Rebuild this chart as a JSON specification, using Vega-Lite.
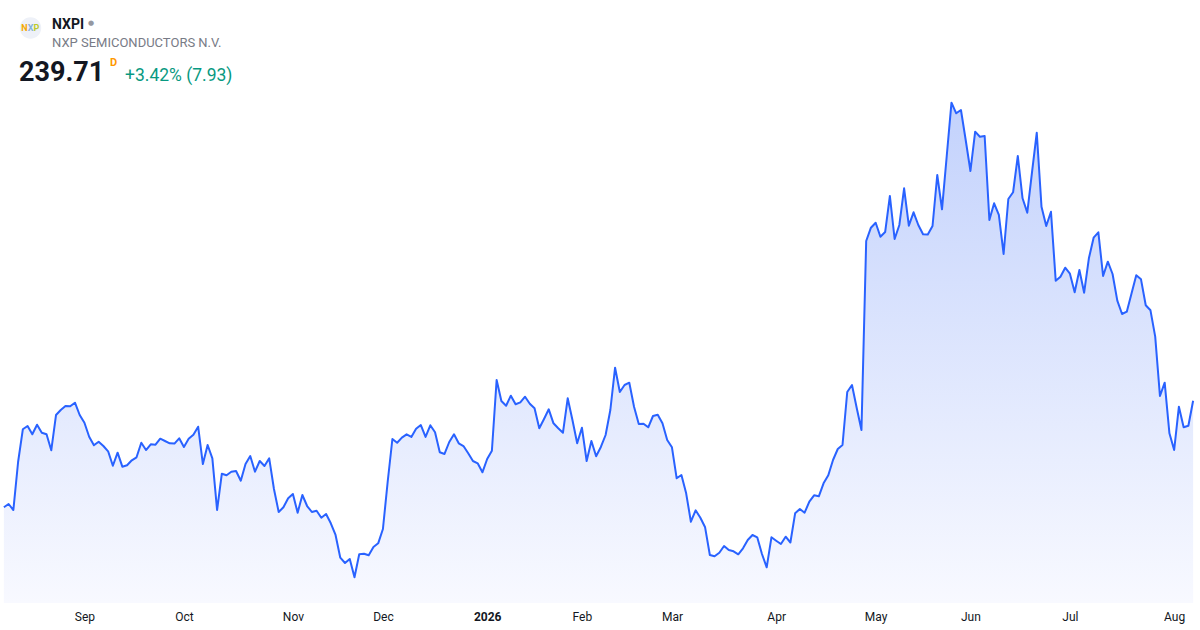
{
  "$schema": "https://vega.github.io/schema/vega-lite/v6.json",
  "background": "white",
  "padding": {"left": 0, "top": 0, "right": 0, "bottom": 4},
  "spacing": 0,
  "config": {
    "view": {"stroke": null},
    "font": "Roboto",
    "title": {"anchor": "start", "orient": "top", "frame": "group"}
  },
  "datasets": {
    "nxpi": [
      {"date":"2025-08-07","price":205.90},{"date":"2025-08-08","price":206.95},{"date":"2025-08-11","price":205.04},{"date":"2025-08-12","price":220.27},{"date":"2025-08-13","price":230.64},{"date":"2025-08-14","price":231.69},{"date":"2025-08-15","price":229.05},{"date":"2025-08-18","price":232.10},{"date":"2025-08-19","price":229.56},{"date":"2025-08-20","price":229.05},{"date":"2025-08-21","price":223.98},{"date":"2025-08-22","price":235.17},{"date":"2025-08-25","price":236.76},{"date":"2025-08-26","price":238.03},{"date":"2025-08-27","price":237.93},{"date":"2025-08-28","price":239.08},{"date":"2025-08-29","price":235.17},
      {"date":"2025-09-02","price":232.73},{"date":"2025-09-03","price":228.29},{"date":"2025-09-04","price":225.56},{"date":"2025-09-05","price":226.71},{"date":"2025-09-08","price":225.34},{"date":"2025-09-09","price":223.66},{"date":"2025-09-10","price":219.09},{"date":"2025-09-11","price":223.22},{"date":"2025-09-12","price":218.78},{"date":"2025-09-15","price":219.22},{"date":"2025-09-16","price":220.81},{"date":"2025-09-17","price":221.76},{"date":"2025-09-18","price":226.39},{"date":"2025-09-19","price":224.07},{"date":"2025-09-22","price":225.88},{"date":"2025-09-23","price":225.75},{"date":"2025-09-24","price":227.66},{"date":"2025-09-25","price":226.93},{"date":"2025-09-26","price":226.20},{"date":"2025-09-29","price":226.10},{"date":"2025-09-30","price":227.78},
      {"date":"2025-10-01","price":225.03},{"date":"2025-10-02","price":227.66},{"date":"2025-10-03","price":228.93},{"date":"2025-10-06","price":231.46},{"date":"2025-10-07","price":219.63},{"date":"2025-10-08","price":225.66},{"date":"2025-10-09","price":221.44},{"date":"2025-10-10","price":205.04},{"date":"2025-10-13","price":216.56},{"date":"2025-10-14","price":216.05},{"date":"2025-10-15","price":217.19},{"date":"2025-10-16","price":217.41},{"date":"2025-10-17","price":214.34},{"date":"2025-10-20","price":219.63},{"date":"2025-10-21","price":222.17},{"date":"2025-10-22","price":217.19},{"date":"2025-10-23","price":220.59},{"date":"2025-10-24","price":219.00},{"date":"2025-10-27","price":221.44},{"date":"2025-10-28","price":211.70},{"date":"2025-10-29","price":204.41},{"date":"2025-10-30","price":205.90},{"date":"2025-10-31","price":208.76},
      {"date":"2025-11-03","price":210.12},{"date":"2025-11-04","price":204.19},{"date":"2025-11-05","price":209.80},{"date":"2025-11-06","price":206.31},{"date":"2025-11-07","price":204.41},{"date":"2025-11-10","price":204.82},{"date":"2025-11-11","price":202.60},{"date":"2025-11-12","price":203.78},{"date":"2025-11-13","price":200.83},{"date":"2025-11-14","price":197.12},{"date":"2025-11-17","price":189.92},{"date":"2025-11-18","price":188.23},{"date":"2025-11-19","price":189.50},{"date":"2025-11-20","price":183.70},{"date":"2025-11-21","price":190.99},{"date":"2025-11-24","price":191.18},{"date":"2025-11-25","price":190.68},{"date":"2025-11-26","price":193.31},{"date":"2025-11-28","price":194.48},
      {"date":"2025-12-01","price":199.02},{"date":"2025-12-02","price":213.92},{"date":"2025-12-03","price":227.56},{"date":"2025-12-04","price":226.39},{"date":"2025-12-05","price":227.98},{"date":"2025-12-08","price":229.05},{"date":"2025-12-09","price":228.20},{"date":"2025-12-10","price":230.83},{"date":"2025-12-11","price":232.00},{"date":"2025-12-12","price":228.20},{"date":"2025-12-15","price":231.91},{"date":"2025-12-16","price":229.69},{"date":"2025-12-17","price":223.34},{"date":"2025-12-18","price":222.81},{"date":"2025-12-19","price":226.61},{"date":"2025-12-22","price":229.05},{"date":"2025-12-23","price":226.20},{"date":"2025-12-24","price":225.34},{"date":"2025-12-26","price":223.03},{"date":"2025-12-29","price":220.59},{"date":"2025-12-30","price":219.86},{"date":"2025-12-31","price":217.00},
      {"date":"2026-01-02","price":221.22},{"date":"2026-01-05","price":223.85},{"date":"2026-01-06","price":246.28},{"date":"2026-01-07","price":239.61},{"date":"2026-01-08","price":238.12},{"date":"2026-01-09","price":241.30},{"date":"2026-01-12","price":238.57},{"date":"2026-01-13","price":239.20},{"date":"2026-01-14","price":240.98},{"date":"2026-01-15","price":238.76},{"date":"2026-01-16","price":237.30},{"date":"2026-01-20","price":230.96},{"date":"2026-01-21","price":233.91},{"date":"2026-01-22","price":236.98},{"date":"2026-01-23","price":232.54},{"date":"2026-01-26","price":230.96},{"date":"2026-01-27","price":229.56},{"date":"2026-01-28","price":240.47},{"date":"2026-01-29","price":233.59},{"date":"2026-01-30","price":226.20},
      {"date":"2026-02-02","price":231.15},{"date":"2026-02-03","price":220.59},{"date":"2026-02-04","price":226.93},{"date":"2026-02-05","price":222.08},{"date":"2026-02-06","price":225.03},{"date":"2026-02-09","price":228.83},{"date":"2026-02-10","price":236.76},{"date":"2026-02-11","price":250.18},{"date":"2026-02-12","price":242.47},{"date":"2026-02-13","price":244.69},{"date":"2026-02-17","price":245.42},{"date":"2026-02-18","price":237.81},{"date":"2026-02-19","price":232.32},{"date":"2026-02-20","price":232.42},{"date":"2026-02-23","price":231.27},{"date":"2026-02-24","price":234.86},{"date":"2026-02-25","price":235.27},{"date":"2026-02-26","price":232.54},{"date":"2026-02-27","price":227.25},
      {"date":"2026-03-02","price":224.93},{"date":"2026-03-03","price":215.10},{"date":"2026-03-04","price":216.15},{"date":"2026-03-05","price":210.34},{"date":"2026-03-06","price":201.33},{"date":"2026-03-09","price":204.95},{"date":"2026-03-10","price":202.60},{"date":"2026-03-11","price":199.56},{"date":"2026-03-12","price":190.77},{"date":"2026-03-13","price":190.36},{"date":"2026-03-16","price":191.50},{"date":"2026-03-17","price":193.63},{"date":"2026-03-18","price":192.36},{"date":"2026-03-19","price":191.95},{"date":"2026-03-20","price":190.99},{"date":"2026-03-23","price":192.90},{"date":"2026-03-24","price":195.53},{"date":"2026-03-25","price":197.12},{"date":"2026-03-26","price":196.39},{"date":"2026-03-27","price":191.09},{"date":"2026-03-30","price":186.87},{"date":"2026-03-31","price":196.39},
      {"date":"2026-04-01","price":195.31},{"date":"2026-04-02","price":194.26},{"date":"2026-04-06","price":196.58},{"date":"2026-04-07","price":194.74},{"date":"2026-04-08","price":204.00},{"date":"2026-04-09","price":205.36},{"date":"2026-04-10","price":204.19},{"date":"2026-04-13","price":207.68},{"date":"2026-04-14","price":209.71},{"date":"2026-04-15","price":209.39},{"date":"2026-04-16","price":213.51},{"date":"2026-04-17","price":216.05},{"date":"2026-04-20","price":220.90},{"date":"2026-04-21","price":224.39},{"date":"2026-04-22","price":225.66},{"date":"2026-04-23","price":242.47},{"date":"2026-04-24","price":244.69},{"date":"2026-04-27","price":237.39},{"date":"2026-04-28","price":230.42},{"date":"2026-04-29","price":290.36},{"date":"2026-04-30","price":294.58},
      {"date":"2026-05-01","price":296.16},{"date":"2026-05-04","price":291.72},{"date":"2026-05-05","price":293.21},{"date":"2026-05-06","price":304.63},{"date":"2026-05-07","price":290.99},{"date":"2026-05-08","price":295.44},{"date":"2026-05-11","price":307.07},{"date":"2026-05-12","price":295.21},{"date":"2026-05-13","price":299.46},{"date":"2026-05-14","price":295.44},{"date":"2026-05-15","price":292.49},{"date":"2026-05-18","price":292.40},{"date":"2026-05-19","price":295.12},{"date":"2026-05-20","price":311.29},{"date":"2026-05-21","price":300.41},{"date":"2026-05-22","price":317.32},{"date":"2026-05-26","price":334.22},{"date":"2026-05-27","price":330.86},{"date":"2026-05-28","price":331.91},{"date":"2026-05-29","price":322.39},
      {"date":"2026-06-01","price":312.56},{"date":"2026-06-02","price":325.03},{"date":"2026-06-03","price":323.44},{"date":"2026-06-04","price":323.66},{"date":"2026-06-05","price":297.02},{"date":"2026-06-08","price":302.32},{"date":"2026-06-09","price":298.61},{"date":"2026-06-10","price":286.24},{"date":"2026-06-11","price":303.68},{"date":"2026-06-12","price":305.81},{"date":"2026-06-15","price":317.32},{"date":"2026-06-16","price":303.90},{"date":"2026-06-17","price":299.34},{"date":"2026-06-18","price":312.24},{"date":"2026-06-22","price":324.71},{"date":"2026-06-23","price":301.24},{"date":"2026-06-24","price":295.12},{"date":"2026-06-25","price":299.65},{"date":"2026-06-26","price":277.77},{"date":"2026-06-29","price":279.04},{"date":"2026-06-30","price":281.89},
      {"date":"2026-07-01","price":279.99},{"date":"2026-07-02","price":274.09},{"date":"2026-07-06","price":281.16},{"date":"2026-07-07","price":273.96},{"date":"2026-07-08","price":284.87},{"date":"2026-07-09","price":291.41},{"date":"2026-07-10","price":293.12},{"date":"2026-07-13","price":279.26},{"date":"2026-07-14","price":283.80},{"date":"2026-07-15","price":279.89},{"date":"2026-07-16","price":271.43},{"date":"2026-07-17","price":267.21},{"date":"2026-07-20","price":267.94},{"date":"2026-07-21","price":273.71},{"date":"2026-07-22","price":279.48},{"date":"2026-07-23","price":278.21},{"date":"2026-07-24","price":269.97},{"date":"2026-07-27","price":268.38},{"date":"2026-07-28","price":260.01},{"date":"2026-07-29","price":241.20},{"date":"2026-07-30","price":245.42},{"date":"2026-07-31","price":229.37},
      {"date":"2026-08-03","price":224.07},{"date":"2026-08-04","price":237.81},{"date":"2026-08-05","price":231.27},{"date":"2026-08-06","price":231.78},{"date":"2026-08-07","price":239.71}
    ]
  },
  "vconcat": [
    {
      "hconcat": [
        {
          "width": 61, "height": 56,
          "data": {"values": [{"logo": "NXP"}]},
          "layer": [
            {"mark": {"type": "point", "shape": "circle", "filled": true, "size": 460, "color": "#eef1f8", "opacity": 1}, "encoding": {}},
            {"mark": {"type": "text", "text": "N", "dx": -6, "fontSize": 9, "fontWeight": "bold", "color": "#f5a800", "baseline": "middle"}, "encoding": {}},
            {"mark": {"type": "text", "text": "X", "dx": 0, "fontSize": 9, "fontWeight": "bold", "color": "#86b3d8", "baseline": "middle"}, "encoding": {}},
            {"mark": {"type": "text", "text": "P", "dx": 6, "fontSize": 9, "fontWeight": "bold", "color": "#bcca2c", "baseline": "middle"}, "encoding": {}}
          ]
        },
        {
          "width": 28, "height": 56,
          "data": {"values": []},
          "mark": "point",
          "title": {"text": "NXPI", "subtitle": "NXP SEMICONDUCTORS N.V.", "dx": -9, "offset": -50, "fontSize": 14, "fontWeight": "bold", "color": "#131722", "subtitleFontSize": 13, "subtitleColor": "#787b86", "subtitlePadding": 5, "subtitleFont": "Roboto", "font": "Roboto"}
        },
        {
          "width": 1107, "height": 56,
          "data": {"values": []},
          "mark": "point",
          "title": {"text": "●", "dx": -1, "offset": -26, "fontSize": 7, "color": "#9598a1", "font": "DejaVu Sans"}
        }
      ],
      "spacing": 0,
      "bounds": "flush"
    },
    {
      "hconcat": [
        {
          "width": 108, "height": 34,
          "data": {"values": []},
          "mark": "point",
          "title": {"text": "239.71", "dx": 19, "offset": -31, "fontSize": 27, "fontWeight": "bold", "color": "#131722", "font": "Roboto"}
        },
        {
          "width": 14, "height": 34,
          "data": {"values": []},
          "mark": "point",
          "title": {"text": "D", "dx": 2, "offset": -12, "fontSize": 11, "fontWeight": "bold", "color": "#ff9800", "font": "Roboto"}
        },
        {
          "width": 1075, "height": 34,
          "data": {"values": []},
          "mark": "point",
          "title": {"text": "+3.42% (7.93)", "dx": 3, "offset": -28.5, "fontSize": 17.5, "fontWeight": "normal", "color": "#089981", "font": "Roboto"}
        }
      ],
      "spacing": 0,
      "bounds": "flush"
    },
    {
      "width": 1197,
      "height": 513,
      "data": {"name": "nxpi"},
      "encoding": {
        "x": {
          "field": "date", "type": "ordinal",
          "scale": {"type": "point", "padding": 0.82},
          "axis": {
            "values": ["2025-09-02","2025-10-01","2025-11-03","2025-12-01","2026-01-02","2026-02-02","2026-03-02","2026-04-01","2026-05-01","2026-06-01","2026-07-01","2026-08-03"],
            "labelExpr": "datum.value == '2026-01-02' ? '2026' : utcFormat(toDate(datum.value), '%b')",
            "labelFontWeight": {"condition": {"test": "datum.value == '2026-01-02'", "value": "bold"}, "value": "normal"},
            "labelAngle": 0, "ticks": false, "domain": false, "grid": false, "title": null,
            "labelFontSize": 12, "labelColor": "#131722", "labelPadding": 8, "labelFont": "Roboto", "labelOverlap": false
          }
        },
        "y": {
          "field": "price", "type": "quantitative", "stack": null,
          "scale": {"domain": [175.55, 338.25], "zero": false, "nice": false},
          "axis": null
        }
      },
      "layer": [
        {
          "mark": {
            "type": "area", "clip": true,
            "color": {"gradient": "linear", "x1": 0, "y1": 0, "x2": 0, "y2": 1, "stops": [{"offset": 0, "color": "#c3d2fc"}, {"offset": 1, "color": "#f8f9ff"}]}
          }
        },
        {
          "mark": {"type": "line", "clip": true, "color": "#2962ff", "strokeWidth": 2, "strokeJoin": "round"}
        }
      ]
    }
  ]
}
